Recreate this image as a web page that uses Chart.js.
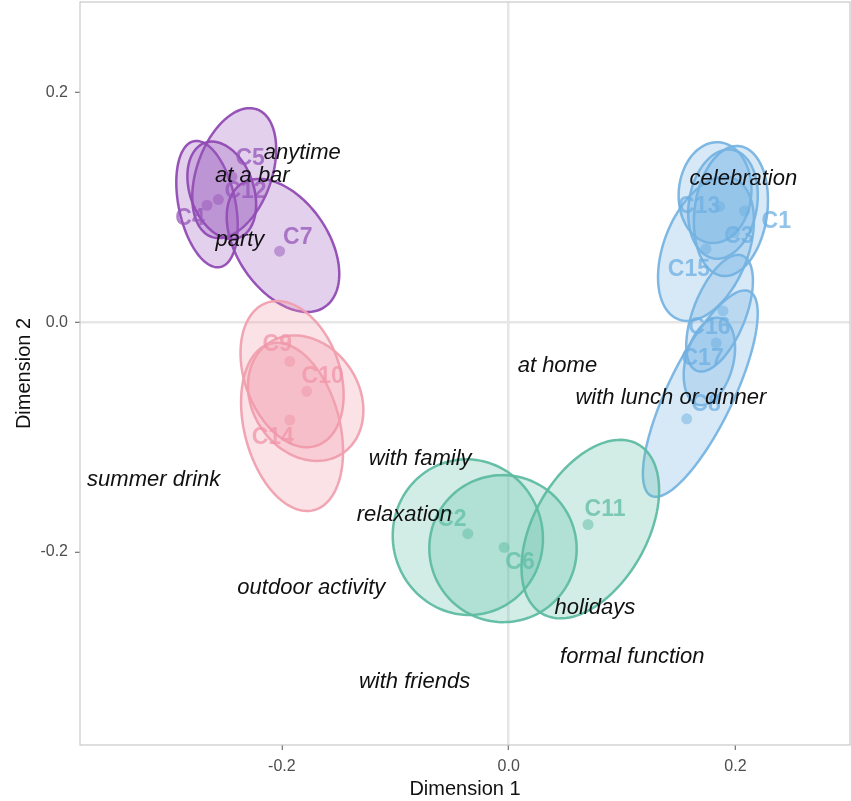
<!DOCTYPE html>
<html>
<head>
<meta charset="utf-8">
<script src="https://cdn.jsdelivr.net/npm/chart.js@4"></script>
<style>
  html, body { margin: 0; padding: 0; background: #fff; }
  #chart { display: block; }
</style>
</head>
<body>
<canvas id="chart" width="851" height="801"></canvas>
<script>
// Kategorier og gruppe-farver
const categories = ['C1','C2','C3','C4','C5','C6','C7','C8','C9','C10','C11','C12','C13','C14','C15','C16','C17'];
const groups = ['blue','green','blue','purple','purple','green','purple','blue','pink','pink','green','purple','blue','pink','blue','blue','blue'];

// Punkternes koordinater (Dimension 1 / Dimension 2)
const pointX = [0.208, -0.036, 0.199, -0.266, -0.244, -0.004, -0.202, 0.157, -0.193, -0.178, 0.070, -0.256, 0.186, -0.193, 0.174, 0.189, 0.183];
const pointY = [0.097, -0.184, 0.078, 0.102, 0.127, -0.196, 0.062, -0.084, -0.034, -0.060, -0.176, 0.107, 0.101, -0.085, 0.064, 0.010, -0.018];

// Placering af kategori-etiketter
const labelX = [0.236, -0.050, 0.203, -0.281, -0.228, 0.010, -0.186, 0.174, -0.204, -0.164, 0.085, -0.232, 0.168, -0.208, 0.159, 0.177, 0.171];
const labelY = [0.088, -0.172, 0.075, 0.090, 0.143, -0.209, 0.074, -0.072, -0.019, -0.047, -0.163, 0.114, 0.101, -0.100, 0.046, -0.005, -0.032];

// Konfidens-ellipser: centrum, halvakser og hældning (grader fra lodret)
const ellipseCX = [0.196, -0.036, 0.189, -0.266, -0.242, -0.005, -0.199, 0.169, -0.191, -0.179, 0.072, -0.253, 0.182, -0.191, 0.174, 0.186, 0.177];
const ellipseCY = [0.097, -0.187, 0.103, 0.103, 0.130, -0.197, 0.067, -0.062, -0.045, -0.066, -0.180, 0.115, 0.113, -0.091, 0.064, 0.008, -0.034];
const ellipseMinor = [0.032, 0.066, 0.030, 0.025, 0.033, 0.065, 0.040, 0.029, 0.042, 0.047, 0.050, 0.028, 0.032, 0.042, 0.037, 0.023, 0.021];
const ellipseMajor = [0.057, 0.068, 0.048, 0.056, 0.059, 0.064, 0.065, 0.099, 0.066, 0.058, 0.085, 0.044, 0.044, 0.075, 0.066, 0.054, 0.039];
const ellipseTilt = [8, -20, 10, -12, 20, 10, -35, 26, -20, -35, 30, -20, 5, -15, 22, 22, 15];

// Anvendelses-ord (kursiv)
const usageTerms = ['anytime', 'at a bar', 'party', 'celebration', 'at home', 'with lunch or dinner', 'with family',
    'summer drink', 'relaxation', 'outdoor activity', 'holidays', 'formal function', 'with friends'];
const termX = [-0.182, -0.226, -0.237, 0.207, 0.043, 0.143, -0.078, -0.313, -0.092, -0.174, 0.076, 0.109, -0.083];
const termY = [0.148, 0.128, 0.072, 0.125, -0.038, -0.066, -0.119, -0.137, -0.168, -0.231, -0.249, -0.291, -0.313];

const tickValues = [-0.2, 0.0, 0.2];

const palette = {
    purple: { rgb: '150, 85, 185', stroke: 'rgba(145, 75, 180, 0.95)' },
    pink:   { rgb: '240, 150, 168', stroke: 'rgba(240, 160, 175, 0.95)' },
    green:  { rgb: '95, 190, 165', stroke: 'rgba(95, 188, 162, 0.95)' },
    blue:   { rgb: '110, 175, 225', stroke: 'rgba(120, 180, 225, 0.95)' }
};

const FONT = "'Liberation Sans', Arial, sans-serif";

// Tegner ellipser under punkterne
const ellipsePlugin = {
    id: 'ellipses',
    beforeDatasetsDraw(chart) {
        const { ctx, chartArea, scales: { x, y } } = chart;
        ctx.save();
        ctx.beginPath();
        ctx.rect(chartArea.left, chartArea.top, chartArea.right - chartArea.left, chartArea.bottom - chartArea.top);
        ctx.clip();
        categories.forEach((c, i) => {
            const col = palette[groups[i]];
            const th = ellipseTilt[i] * Math.PI / 180;
            ctx.beginPath();
            for (let k = 0; k <= 120; k++) {
                const t = 2 * Math.PI * k / 120;
                const u = ellipseMinor[i] * Math.cos(t);
                const v = ellipseMajor[i] * Math.sin(t);
                const dx = u * Math.cos(th) + v * Math.sin(th);
                const dy = -u * Math.sin(th) + v * Math.cos(th);
                const px = x.getPixelForValue(ellipseCX[i] + dx);
                const py = y.getPixelForValue(ellipseCY[i] + dy);
                if (k === 0) ctx.moveTo(px, py); else ctx.lineTo(px, py);
            }
            ctx.closePath();
            ctx.fillStyle = 'rgba(' + col.rgb + ', 0.28)';
            ctx.fill();
            ctx.lineWidth = 2.5;
            ctx.strokeStyle = col.stroke;
            ctx.stroke();
        });
        ctx.restore();
    },
    afterDatasetsDraw(chart) {
        const { ctx, scales: { x, y } } = chart;
        ctx.save();
        ctx.textAlign = 'center';
        ctx.textBaseline = 'middle';
        // Kategori-etiketter
        ctx.font = 'bold 23px ' + FONT;
        categories.forEach((c, i) => {
            ctx.fillStyle = 'rgba(' + palette[groups[i]].rgb + ', 0.75)';
            ctx.fillText(c, x.getPixelForValue(labelX[i]), y.getPixelForValue(labelY[i]));
        });
        // Anvendelser
        ctx.font = 'italic 22px ' + FONT;
        ctx.fillStyle = '#111';
        usageTerms.forEach((t, i) => {
            ctx.fillText(t, x.getPixelForValue(termX[i]), y.getPixelForValue(termY[i]));
        });
        ctx.restore();
    },
    afterDraw(chart) {
        const { ctx, chartArea } = chart;
        ctx.save();
        ctx.strokeStyle = '#c8c8c8';
        ctx.lineWidth = 1.2;
        ctx.strokeRect(chartArea.left, chartArea.top, chartArea.right - chartArea.left, chartArea.bottom - chartArea.top);
        ctx.restore();
    }
};

const ctx = document.querySelector('#chart');

new Chart(ctx, {
    type: 'scatter',
    data: {
        datasets: [{
            label: 'Kategorier',
            data: categories.map((c, i) => ({ x: pointX[i], y: pointY[i] })),
            backgroundColor: groups.map(g => 'rgba(' + palette[g].rgb + ', 0.5)'),
            borderWidth: 0,
            pointRadius: 5.5
        }]
    },
    options: {
        responsive: false,
        animation: false,
        layout: {
            autoPadding: false,
            padding: { top: 2, right: 1, left: 0, bottom: 0 }
        },
        scales: {
            x: {
                type: 'linear',
                min: -0.378,
                max: 0.301,
                afterBuildTicks: axis => { axis.ticks = tickValues.map(v => ({ value: v })); },
                afterFit: axis => { axis.height = 56; axis.paddingLeft = 0; axis.paddingRight = 0; },
                ticks: {
                    color: '#4d4d4d',
                    font: { family: FONT, size: 16 },
                    padding: 7,
                    callback: v => v.toFixed(1)
                },
                grid: {
                    color: c => c.tick && c.tick.value === 0 ? '#e6e6e6' : 'rgba(0,0,0,0)',
                    lineWidth: 2.5,
                    tickColor: '#555',
                    tickLength: 5,
                    tickWidth: 1
                },
                border: { display: false },
                title: {
                    display: true,
                    text: 'Dimension 1',
                    color: '#111',
                    font: { family: FONT, size: 20 },
                    padding: { top: 0, bottom: 0 }
                }
            },
            y: {
                type: 'linear',
                min: -0.368,
                max: 0.279,
                afterBuildTicks: axis => { axis.ticks = tickValues.map(v => ({ value: v })); },
                afterFit: axis => { axis.width = 80; axis.paddingTop = 0; axis.paddingBottom = 0; },
                ticks: {
                    color: '#4d4d4d',
                    font: { family: FONT, size: 16 },
                    padding: 7,
                    callback: v => v.toFixed(1)
                },
                grid: {
                    color: c => c.tick && c.tick.value === 0 ? '#e6e6e6' : 'rgba(0,0,0,0)',
                    lineWidth: 2.5,
                    tickColor: '#555',
                    tickLength: 5,
                    tickWidth: 1
                },
                border: { display: false },
                title: {
                    display: true,
                    text: 'Dimension 2',
                    color: '#111',
                    font: { family: FONT, size: 20 },
                    padding: { top: 12, bottom: 0 }
                }
            }
        },
        plugins: {
            legend: { display: false },
            tooltip: { enabled: false }
        }
    },
    plugins: [ellipsePlugin]
});
</script>
</body>
</html>
